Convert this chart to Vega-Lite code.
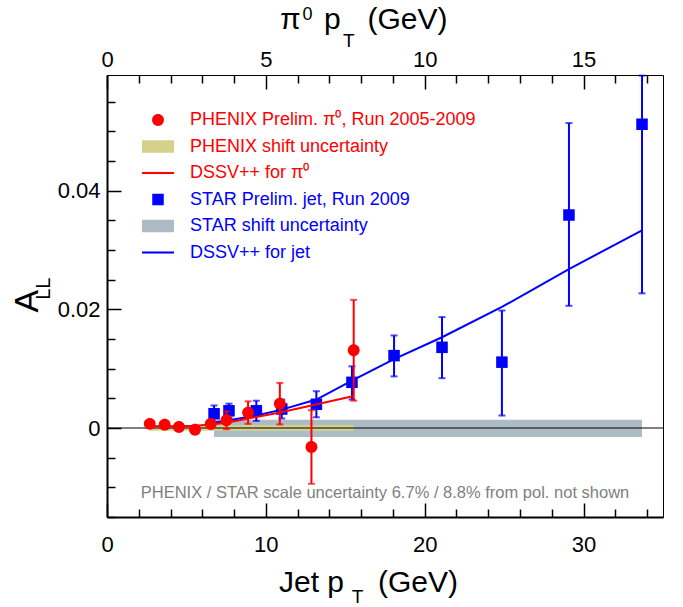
{
  "$schema": "https://vega.github.io/schema/vega-lite/v6.json",
  "width": 556,
  "height": 442,
  "autosize": {"type": "none"},
  "padding": {"left": 107, "top": 75, "right": 20, "bottom": 90},
  "config": {
    "font": "Liberation Sans",
    "view": {"stroke": "black", "strokeWidth": 1},
    "axis": {"grid": false, "labelFont": "Liberation Sans", "labelFontSize": 22, "labelColor": "black", "tickColor": "black", "tickWidth": 1.5, "labelOverlap": false, "labelFlush": false, "labelBound": false, "title": null, "zindex": 1}
  },
  "datasets": {
    "phenix": [
      {"series": "PHENIX Prelim.  π⁰, Run 2005-2009", "x": 2.69, "y": 0.0007, "lo": 0.0005, "hi": 0.0009},
      {"series": "PHENIX Prelim.  π⁰, Run 2005-2009", "x": 3.63, "y": 0.00056, "lo": 0.0003, "hi": 0.0008},
      {"series": "PHENIX Prelim.  π⁰, Run 2005-2009", "x": 4.53, "y": 0.00017, "lo": -0.0001, "hi": 0.00045},
      {"series": "PHENIX Prelim.  π⁰, Run 2005-2009", "x": 5.54, "y": -0.0003, "lo": -0.0007, "hi": 0.0001},
      {"series": "PHENIX Prelim.  π⁰, Run 2005-2009", "x": 6.53, "y": 0.00067, "lo": 0.0001, "hi": 0.0012},
      {"series": "PHENIX Prelim.  π⁰, Run 2005-2009", "x": 7.52, "y": 0.0013, "lo": -0.0002, "hi": 0.0028},
      {"series": "PHENIX Prelim.  π⁰, Run 2005-2009", "x": 8.88, "y": 0.0026, "lo": 0.0007, "hi": 0.0045},
      {"series": "PHENIX Prelim.  π⁰, Run 2005-2009", "x": 10.88, "y": 0.0041, "lo": 0.0006, "hi": 0.0076},
      {"series": "PHENIX Prelim.  π⁰, Run 2005-2009", "x": 12.87, "y": -0.0032, "lo": -0.0094, "hi": 0.003},
      {"series": "PHENIX Prelim.  π⁰, Run 2005-2009", "x": 15.53, "y": 0.0131, "lo": 0.0046, "hi": 0.0216}
    ],
    "star": [
      {"series": "STAR Prelim. jet, Run 2009", "x": 6.74, "y": 0.0024, "lo": 0.001, "hi": 0.0038},
      {"series": "STAR Prelim. jet, Run 2009", "x": 7.68, "y": 0.0029, "lo": 0.0017, "hi": 0.0041},
      {"series": "STAR Prelim. jet, Run 2009", "x": 9.4, "y": 0.0029, "lo": 0.0012, "hi": 0.0046},
      {"series": "STAR Prelim. jet, Run 2009", "x": 11.0, "y": 0.0032, "lo": 0.0016, "hi": 0.0048},
      {"series": "STAR Prelim. jet, Run 2009", "x": 13.18, "y": 0.004, "lo": 0.0018, "hi": 0.0062},
      {"series": "STAR Prelim. jet, Run 2009", "x": 15.42, "y": 0.0077, "lo": 0.0048, "hi": 0.0104},
      {"series": "STAR Prelim. jet, Run 2009", "x": 18.07, "y": 0.0122, "lo": 0.0087, "hi": 0.0156},
      {"series": "STAR Prelim. jet, Run 2009", "x": 21.09, "y": 0.0136, "lo": 0.0084, "hi": 0.0187},
      {"series": "STAR Prelim. jet, Run 2009", "x": 24.86, "y": 0.0111, "lo": 0.0021, "hi": 0.0198},
      {"series": "STAR Prelim. jet, Run 2009", "x": 29.08, "y": 0.0359, "lo": 0.0206, "hi": 0.0514},
      {"series": "STAR Prelim. jet, Run 2009", "x": 33.68, "y": 0.0512, "lo": 0.0227, "hi": 0.0594}
    ],
    "dssvpi": [
      {"x": 2.69, "y": 0.0003}, {"x": 3.63, "y": 0.0003}, {"x": 4.53, "y": 0.0003},
      {"x": 5.54, "y": 0.0004}, {"x": 6.53, "y": 0.0006}, {"x": 7.52, "y": 0.0009},
      {"x": 8.88, "y": 0.0016}, {"x": 10.88, "y": 0.0026}, {"x": 12.87, "y": 0.0038},
      {"x": 15.53, "y": 0.0054}
    ],
    "dssvjet": [
      {"x": 6.74, "y": 0.0009}, {"x": 7.68, "y": 0.0013}, {"x": 9.4, "y": 0.0021},
      {"x": 11.0, "y": 0.0031}, {"x": 13.18, "y": 0.0048}, {"x": 15.42, "y": 0.008},
      {"x": 18.07, "y": 0.0116}, {"x": 21.09, "y": 0.0153}, {"x": 24.86, "y": 0.0204},
      {"x": 29.08, "y": 0.0268}, {"x": 33.68, "y": 0.0333}
    ],
    "one": [{}]
  },
  "layer": [
    {
      "data": {"values": [{"x": 6.74, "x2": 33.68, "y": -0.0015, "y2": 0.0014}]},
      "mark": {"type": "rect", "color": "#acbbc4"},
      "encoding": {
        "x": {
          "field": "x", "type": "quantitative",
          "scale": {"domain": [0, 35], "nice": false, "zero": false},
          "axis": {
            "orient": "bottom", "values": [0, 10, 20, 30], "format": "d",
            "ticks": false, "labelPadding": 17,
            "domain": true, "domainColor": "black", "domainWidth": 2
          }
        },
        "x2": {"field": "x2"},
        "y": {
          "field": "y", "type": "quantitative",
          "scale": {"domain": [-0.015, 0.0595], "nice": false, "zero": false},
          "axis": {
            "orient": "left", "values": [0, 0.02, 0.04],
            "labelExpr": "datum.value == 0 ? '0' : format(datum.value, '.2f')",
            "ticks": false, "labelPadding": 7,
            "domain": true, "domainColor": "black", "domainWidth": 2
          }
        },
        "y2": {"field": "y2"}
      }
    },
    {
      "data": {"values": [{"x": 2.69, "x2": 15.53, "y": -0.00045, "y2": 0.0005}]},
      "mark": {"type": "rect", "color": "#d5d08c"},
      "encoding": {
        "x": {
          "field": "x", "type": "quantitative",
          "axis": {"orient": "bottom", "values": [0, 10, 20, 30], "labels": false, "domain": false, "tickSize": 14, "offset": -14}
        },
        "x2": {"field": "x2"},
        "y": {
          "field": "y", "type": "quantitative",
          "axis": {"orient": "left", "values": [0, 0.02, 0.04], "labels": false, "domain": false, "tickSize": 14, "offset": -14}
        },
        "y2": {"field": "y2"}
      }
    },
    {
      "data": {"name": "one"},
      "mark": {"type": "rule", "color": "black", "strokeWidth": 1},
      "encoding": {"y": {"datum": 0, "axis": null}}
    },
    {
      "data": {"name": "star"},
      "mark": {"type": "errorbar", "color": "#0000ff", "thickness": 2, "ticks": {"size": 7, "thickness": 2, "color": "#0000ff"}},
      "encoding": {
        "x": {"field": "x", "type": "quantitative", "axis": null},
        "y": {"field": "lo", "type": "quantitative", "axis": null},
        "y2": {"field": "hi"}
      }
    },
    {
      "data": {"name": "star"},
      "mark": {"type": "point", "filled": true, "size": 256, "opacity": 1},
      "encoding": {
        "x": {
          "field": "x", "type": "quantitative",
          "axis": {"orient": "bottom", "values": [2, 4, 6, 8, 12, 14, 16, 18, 22, 24, 26, 28, 32, 34], "labels": false, "domain": false, "tickSize": 8, "offset": -8}
        },
        "y": {
          "field": "y", "type": "quantitative",
          "axis": {"orient": "left", "values": [-0.015, -0.01, -0.005, 0.005, 0.01, 0.015, 0.025, 0.03, 0.035, 0.045, 0.05, 0.055], "labels": false, "domain": false, "tickSize": 8, "offset": -8}
        },
        "color": {
          "field": "series", "type": "nominal",
          "scale": {
            "domain": ["PHENIX Prelim.  π⁰, Run 2005-2009", "PHENIX shift uncertainty", "DSSV++ for  π⁰", "STAR Prelim. jet, Run 2009", "STAR shift uncertainty", "DSSV++ for jet"],
            "range": ["#ff0000", "#d5d08c", "#ff0000", "#0000ff", "#acbbc4", "#0000ff"]
          },
          "legend": {
            "title": null, "orient": "none", "legendX": 42, "legendY": 36, "direction": "vertical",
            "padding": 0, "symbolSize": 256, "symbolStrokeWidth": 0, "symbolOpacity": 1,
            "labelFontSize": 18, "labelFont": "Liberation Sans", "labelLimit": 500, "labelOffset": 23, "rowPadding": 8.5,
            "encode": {"labels": {"update": {"fill": {"signal": "indexof(datum.label, 'PHENIX') >= 0 || indexof(datum.label, 'π') >= 0 ? '#ff0000' : '#0000ff'"}}}}
          }
        },
        "shape": {
          "field": "series", "type": "nominal",
          "scale": {
            "domain": ["PHENIX Prelim.  π⁰, Run 2005-2009", "PHENIX shift uncertainty", "DSSV++ for  π⁰", "STAR Prelim. jet, Run 2009", "STAR shift uncertainty", "DSSV++ for jet"],
            "range": ["M0.74,0A0.74,0.74,0,1,1,-0.74,0A0.74,0.74,0,1,1,0.74,0Z", "M-2,-0.78H2V0.78H-2Z", "M-2,-0.13H2V0.13H-2Z", "M-0.72,-0.72H0.72V0.72H-0.72Z", "M-2,-0.78H2V0.78H-2Z", "M-2,-0.13H2V0.13H-2Z"]
          },
          "legend": {
            "title": null, "orient": "none", "legendX": 42, "legendY": 36, "direction": "vertical",
            "padding": 0, "symbolSize": 256, "symbolStrokeWidth": 0, "symbolOpacity": 1,
            "labelFontSize": 18, "labelFont": "Liberation Sans", "labelLimit": 500, "labelOffset": 23, "rowPadding": 8.5,
            "encode": {"labels": {"update": {"fill": {"signal": "indexof(datum.label, 'PHENIX') >= 0 || indexof(datum.label, 'π') >= 0 ? '#ff0000' : '#0000ff'"}}}}
          }
        }
      }
    },
    {
      "data": {"name": "dssvjet"},
      "mark": {"type": "line", "color": "#0000ff", "strokeWidth": 2},
      "encoding": {
        "x": {
          "field": "x", "type": "quantitative",
          "axis": {"orient": "top", "values": [0, 10, 20, 30], "labelExpr": "format(datum.value / 2, 'd')", "ticks": false, "labelPadding": 4, "domain": false}
        },
        "y": {"field": "y", "type": "quantitative", "axis": null}
      }
    },
    {
      "data": {"name": "phenix"},
      "mark": {"type": "errorbar", "color": "#ff0000", "thickness": 2, "ticks": {"size": 7, "thickness": 2, "color": "#ff0000"}},
      "encoding": {
        "x": {"field": "x", "type": "quantitative", "axis": null},
        "y": {"field": "lo", "type": "quantitative", "axis": null},
        "y2": {"field": "hi"}
      }
    },
    {
      "data": {"name": "phenix"},
      "mark": {"type": "point", "filled": true, "size": 256, "opacity": 1},
      "encoding": {
        "x": {
          "field": "x", "type": "quantitative",
          "axis": {"orient": "top", "values": [0, 10, 20, 30], "labels": false, "domain": false, "tickSize": 14, "offset": -14}
        },
        "y": {"field": "y", "type": "quantitative", "axis": null},
        "color": {"field": "series", "type": "nominal"},
        "shape": {"field": "series", "type": "nominal"}
      }
    },
    {
      "data": {"name": "dssvpi"},
      "mark": {"type": "line", "color": "#ff0000", "strokeWidth": 2},
      "encoding": {
        "x": {
          "field": "x", "type": "quantitative",
          "axis": {"orient": "top", "values": [2, 4, 6, 8, 12, 14, 16, 18, 22, 24, 26, 28, 32, 34], "labels": false, "domain": false, "tickSize": 8, "offset": -8}
        },
        "y": {"field": "y", "type": "quantitative", "axis": null}
      }
    },
    {
      "data": {"name": "one"},
      "mark": {"type": "text", "fontSize": 16.5, "color": "#808080", "align": "center", "baseline": "middle"},
      "encoding": {
        "x": {"datum": 17.5, "axis": null},
        "y": {"datum": -0.0109, "axis": null},
        "text": {"value": "PHENIX / STAR scale uncertainty 6.7% / 8.8% from pol. not shown"}
      }
    },
    {
      "data": {"name": "one"},
      "mark": {"type": "text", "fontSize": 30, "color": "black", "align": "right", "baseline": "alphabetic", "dy": 75},
      "encoding": {"x": {"datum": 14.92, "axis": null}, "y": {"datum": -0.015, "axis": null}, "text": {"value": "Jet p"}}
    },
    {
      "data": {"name": "one"},
      "mark": {"type": "text", "fontSize": 19, "color": "black", "align": "left", "baseline": "alphabetic", "dy": 86},
      "encoding": {"x": {"datum": 15.4, "axis": null}, "y": {"datum": -0.015, "axis": null}, "text": {"value": "T"}}
    },
    {
      "data": {"name": "one"},
      "mark": {"type": "text", "fontSize": 30, "color": "black", "align": "left", "baseline": "alphabetic", "dy": 75},
      "encoding": {"x": {"datum": 17.06, "axis": null}, "y": {"datum": -0.015, "axis": null}, "text": {"value": "(GeV)"}}
    },
    {
      "data": {"name": "one"},
      "mark": {"type": "text", "fontSize": 30, "color": "black", "align": "left", "baseline": "alphabetic", "dy": -46},
      "encoding": {"x": {"datum": 10.89, "axis": null}, "y": {"datum": 0.0595, "axis": null}, "text": {"value": "π"}}
    },
    {
      "data": {"name": "one"},
      "mark": {"type": "text", "fontSize": 18, "color": "black", "align": "left", "baseline": "alphabetic", "dy": -55},
      "encoding": {"x": {"datum": 12.3, "axis": null}, "y": {"datum": 0.0595, "axis": null}, "text": {"value": "0"}}
    },
    {
      "data": {"name": "one"},
      "mark": {"type": "text", "fontSize": 30, "color": "black", "align": "left", "baseline": "alphabetic", "dy": -46},
      "encoding": {"x": {"datum": 13.66, "axis": null}, "y": {"datum": 0.0595, "axis": null}, "text": {"value": "p"}}
    },
    {
      "data": {"name": "one"},
      "mark": {"type": "text", "fontSize": 19, "color": "black", "align": "left", "baseline": "alphabetic", "dy": -28},
      "encoding": {"x": {"datum": 14.85, "axis": null}, "y": {"datum": 0.0595, "axis": null}, "text": {"value": "T"}}
    },
    {
      "data": {"name": "one"},
      "mark": {"type": "text", "fontSize": 30, "color": "black", "align": "left", "baseline": "alphabetic", "dy": -46},
      "encoding": {"x": {"datum": 16.4, "axis": null}, "y": {"datum": 0.0595, "axis": null}, "text": {"value": "(GeV)"}}
    },
    {
      "data": {"name": "one"},
      "mark": {"type": "text", "fontSize": 34, "color": "black", "align": "center", "baseline": "alphabetic", "angle": 270},
      "encoding": {"x": {"datum": -4.34, "axis": null}, "y": {"datum": 0.0214, "axis": null}, "text": {"value": "A"}}
    },
    {
      "data": {"name": "one"},
      "mark": {"type": "text", "fontSize": 20, "color": "black", "align": "left", "baseline": "alphabetic", "angle": 270},
      "encoding": {"x": {"datum": -3.59, "axis": null}, "y": {"datum": 0.0216, "axis": null}, "text": {"value": "LL"}}
    }
  ],
  "resolve": {"axis": {"x": "independent", "y": "independent"}}
}
